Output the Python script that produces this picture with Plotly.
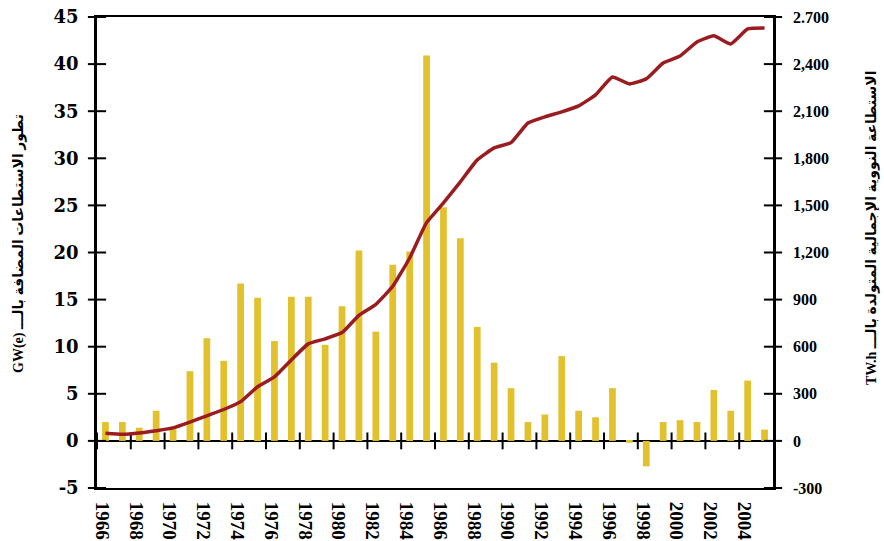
import plotly.graph_objects as go

# Annual capacity additions (GW(e)) and total nuclear generation (TW.h), 1966-2005
years = list(range(1966, 2006))
added_gw = [2.0, 2.0, 1.4, 3.2, 1.3, 7.4, 10.9, 8.5, 16.7, 15.2,
            10.6, 15.3, 15.3, 10.2, 14.3, 20.2, 11.6, 18.7, 20.1, 40.9,
            24.8, 21.5, 12.1, 8.3, 5.6, 2.0, 2.8, 9.0, 3.2, 2.5,
            5.6, -0.2, -2.7, 2.0, 2.2, 2.0, 5.4, 3.2, 6.4, 1.2]
generation_twh = [48, 42, 50, 65, 83, 120, 160, 200, 250, 345,
                  408, 516, 618, 650, 690, 800, 870, 985, 1165, 1390,
                  1516, 1650, 1790, 1866, 1900, 2025, 2064, 2096, 2134, 2204,
                  2318, 2274, 2306, 2407, 2452, 2541, 2580, 2528, 2624, 2630]

left_ticks = list(range(-5, 50, 5))
left_ticktext = ["-5", "0", "5", "10", "15", "20", "25", "30", "35", "40", "45"]
right_ticks = list(range(-300, 3000, 300))
right_ticktext = ["-300", "0", "300", "600", "900", "1,200", "1,500",
                  "1,800", "2,100", "2,400", "2.700"]
year_ticks = list(range(1966, 2006, 2))

left_title = "\u202bتطور الاستطاعات المضافة بالـــ GW(e)\u200e\u202c"
right_title = "\u202bالاستطاعة النووية الإجمالية المتولدة بالـــ TW.h\u200e\u202c"

W, H = 884, 541
L, R, T, B = 97, 111, 17, 53
PW, PH = W - L - R, H - T - B

BAR_COLOR = "#e1c22e"
LINE_COLOR = "#9b1c20"
SERIF = "Liberation Serif"

x_mid = [y + 0.5 for y in years]

fig = go.Figure()

fig.add_trace(go.Bar(
    x=x_mid, y=added_gw, width=0.4,
    marker=dict(color=BAR_COLOR, line=dict(width=0)),
    yaxis="y", showlegend=False, hoverinfo="skip",
))

fig.add_trace(go.Scatter(
    x=x_mid, y=generation_twh, mode="lines",
    line=dict(color=LINE_COLOR, width=3.5, shape="spline", smoothing=0.4),
    yaxis="y2", showlegend=False, hoverinfo="skip",
))

# crossing tick marks: on the zero line, the left axis and the right axis
fig.add_trace(go.Scatter(
    x=year_ticks, y=[0] * len(year_ticks), mode="markers", yaxis="y",
    marker=dict(symbol="line-ns", size=12, line=dict(color="black", width=2)),
    cliponaxis=False, showlegend=False, hoverinfo="skip",
))
fig.add_trace(go.Scatter(
    x=[years[0]] * len(left_ticks), y=left_ticks, mode="markers", yaxis="y",
    marker=dict(symbol="line-ew", size=13, line=dict(color="black", width=2)),
    cliponaxis=False, showlegend=False, hoverinfo="skip",
))
fig.add_trace(go.Scatter(
    x=[years[-1] + 1] * len(right_ticks), y=right_ticks, mode="markers", yaxis="y2",
    marker=dict(symbol="line-ew", size=13, line=dict(color="black", width=2)),
    cliponaxis=False, showlegend=False, hoverinfo="skip",
))

fig.update_layout(
    width=W, height=H,
    margin=dict(l=L, r=R, t=T, b=B, autoexpand=False),
    paper_bgcolor="white", plot_bgcolor="white",
    xaxis=dict(
        range=[years[0], years[-1] + 1],
        tickvals=[y + 0.3 for y in year_ticks],
        ticktext=[str(y) for y in year_ticks],
        tickangle=90, ticks="", ticklabelstandoff=8,
        tickfont=dict(family=SERIF, size=19, color="black", weight="bold"),
        showgrid=False, zeroline=False,
        showline=True, linecolor="black", linewidth=2, mirror=True,
    ),
    yaxis=dict(
        range=[-5, 45], tickvals=left_ticks, ticktext=left_ticktext,
        ticks="", ticklabelstandoff=12,
        tickfont=dict(family="DejaVu Serif", size=18, color="black", weight="bold"),
        showgrid=False, zeroline=True, zerolinecolor="black", zerolinewidth=2,
        showline=True, linecolor="black", linewidth=2.5,
    ),
    yaxis2=dict(
        range=[-300, 2700], overlaying="y", side="right",
        tickvals=right_ticks, ticktext=right_ticktext, ticks="", ticklabelstandoff=14,
        tickfont=dict(family=SERIF, size=16, color="black", weight="bold"),
        showgrid=False, zeroline=False,
        showline=True, linecolor="black", linewidth=2.5,
    ),
    annotations=[
        dict(text=left_title, textangle=-90, xref="paper", yref="paper",
             x=(19 - L) / PW, y=(H - B - 244) / PH, showarrow=False,
             xanchor="center", yanchor="middle",
             font=dict(family="Liberation Serif, DejaVu Sans", size=14,
                       color="black", weight="bold")),
        dict(text=right_title, textangle=-90, xref="paper", yref="paper",
             x=(872 - L) / PW, y=(H - B - 228) / PH, showarrow=False,
             xanchor="center", yanchor="middle",
             font=dict(family="Liberation Serif, DejaVu Sans", size=14,
                       color="black", weight="bold")),
    ],
)

fig.write_html("out.html")
